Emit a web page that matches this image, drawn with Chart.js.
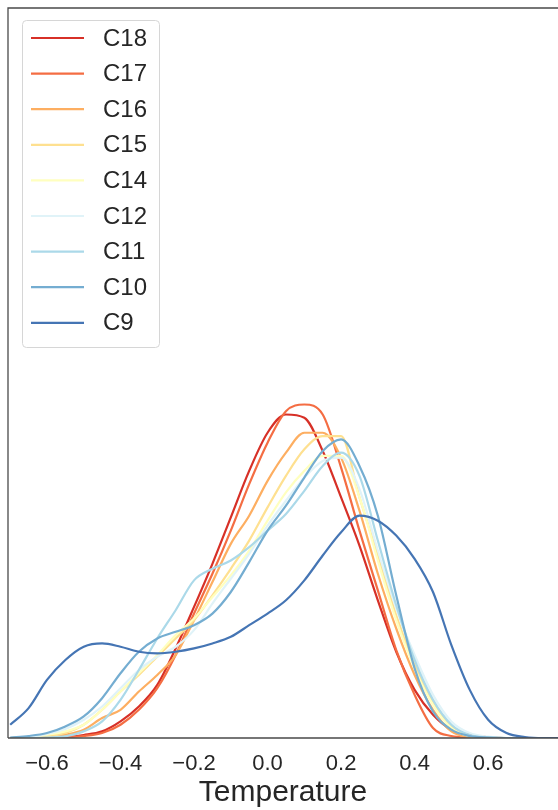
<!DOCTYPE html>
<html>
<head>
<meta charset="utf-8">
<script src="https://cdn.jsdelivr.net/npm/chart.js@4.4.1/dist/chart.umd.min.js"></script>
<style>
  html, body { margin: 0; padding: 0; background: #fff; overflow: hidden; }
  #wrap { width: 558px; height: 810px; position: relative; }
</style>
</head>
<body>
<div id="wrap"><canvas id="kde"></canvas></div>
<script>
// temperature grid the densities were read at
const temps = [-0.70, -0.65, -0.60, -0.55, -0.50, -0.45, -0.40, -0.35, -0.30, -0.25,
               -0.20, -0.15, -0.10, -0.05, 0.00, 0.05, 0.10, 0.15, 0.20, 0.25,
               0.30, 0.35, 0.40, 0.45, 0.50, 0.55, 0.60, 0.65, 0.70, 0.75, 0.80];

const names = ["C18", "C17", "C16", "C15", "C14", "C12", "C11", "C10", "C9"];
const colors = ["#d73027", "#f46d43", "#fdae61", "#fee090", "#ffffbf", "#e0f3f8", "#abd9e9", "#74add1", "#4575b4"];

const c18 = [0, 0, 0.003, 0.006, 0.018, 0.04, 0.10, 0.19, 0.32, 0.54, 0.79, 1.05, 1.33, 1.61, 1.84, 1.95, 1.93, 1.73, 1.45, 1.16, 0.83, 0.52, 0.29, 0.14, 0.05, 0.018, 0.006, 0, 0, 0, 0];
const c17 = [0, 0, 0.002, 0.005, 0.012, 0.03, 0.08, 0.17, 0.30, 0.50, 0.75, 0.99, 1.25, 1.53, 1.78, 1.97, 2.01, 1.95, 1.63, 1.25, 0.89, 0.53, 0.26, 0.06, 0.012, 0.003, 0, 0, 0, 0, 0];
const c16 = [0, 0.001, 0.006, 0.02, 0.05, 0.12, 0.17, 0.28, 0.38, 0.50, 0.71, 0.94, 1.17, 1.34, 1.55, 1.72, 1.84, 1.84, 1.69, 1.37, 0.99, 0.66, 0.38, 0.17, 0.04, 0.006, 0, 0, 0, 0, 0];
const c15 = [0, 0.002, 0.01, 0.03, 0.08, 0.17, 0.28, 0.38, 0.49, 0.60, 0.71, 0.86, 1.02, 1.19, 1.39, 1.58, 1.74, 1.82, 1.82, 1.45, 1.10, 0.74, 0.44, 0.21, 0.07, 0.012, 0.003, 0, 0, 0, 0];
const c14 = [0, 0.003, 0.02, 0.04, 0.08, 0.17, 0.28, 0.39, 0.50, 0.62, 0.72, 0.85, 0.98, 1.13, 1.31, 1.48, 1.61, 1.70, 1.70, 1.45, 1.07, 0.71, 0.42, 0.20, 0.06, 0.012, 0.003, 0, 0, 0, 0];
const c12 = [0, 0.005, 0.025, 0.055, 0.11, 0.19, 0.30, 0.41, 0.49, 0.55, 0.65, 0.81, 0.96, 1.11, 1.28, 1.43, 1.57, 1.67, 1.69, 1.50, 1.13, 0.78, 0.50, 0.26, 0.10, 0.03, 0.008, 0, 0, 0, 0];
const c11 = [0, 0, 0.003, 0.01, 0.04, 0.10, 0.23, 0.41, 0.60, 0.77, 0.95, 1.02, 1.07, 1.15, 1.25, 1.35, 1.49, 1.64, 1.72, 1.58, 1.19, 0.80, 0.47, 0.23, 0.08, 0.018, 0.004, 0, 0, 0, 0];
const c10 = [0.003, 0.012, 0.03, 0.07, 0.13, 0.24, 0.39, 0.52, 0.60, 0.64, 0.68, 0.75, 0.88, 1.06, 1.25, 1.40, 1.57, 1.73, 1.80, 1.64, 1.34, 0.86, 0.42, 0.16, 0.05, 0.012, 0.003, 0, 0, 0, 0];
const c9  = [0.08, 0.18, 0.35, 0.47, 0.55, 0.57, 0.55, 0.52, 0.51, 0.52, 0.54, 0.57, 0.61, 0.68, 0.75, 0.83, 0.95, 1.10, 1.24, 1.34, 1.31, 1.22, 1.08, 0.88, 0.56, 0.29, 0.11, 0.03, 0.006, 0, 0];

const series = [c18, c17, c16, c15, c14, c12, c11, c10, c9];
const xTicks = [-0.6, -0.4, -0.2, 0.0, 0.2, 0.4, 0.6];

const FONT = "'Liberation Sans', Arial, sans-serif";
const INK = "#262626";

// spines + legend box, drawn on top like matplotlib does
const frame = {
    id: 'frame',
    afterDatasetsDraw(chart) {
        const {ctx, chartArea: a} = chart;
        ctx.save();
        ctx.strokeStyle = "#4a4a4a";
        ctx.lineWidth = 1.3;
        ctx.beginPath();
        ctx.moveTo(a.left, a.bottom);
        ctx.lineTo(a.left, a.top);
        ctx.lineTo(chart.width + 5, a.top);
        ctx.moveTo(a.left, a.bottom);
        ctx.lineTo(chart.width + 5, a.bottom);
        ctx.stroke();
        ctx.restore();
    },
    afterDraw(chart) {
        const ctx = chart.ctx;
        ctx.save();
        ctx.beginPath();
        ctx.roundRect(22.5, 20.5, 137, 327, 4);
        ctx.fillStyle = "rgba(255,255,255,0.85)";
        ctx.fill();
        ctx.strokeStyle = "#d6d6d6";
        ctx.lineWidth = 1;
        ctx.stroke();
        ctx.font = "24px " + FONT;
        ctx.textBaseline = "middle";
        names.forEach((n, i) => {
            const y = 38 + i * 35.6;
            ctx.strokeStyle = colors[i];
            ctx.lineWidth = 2.2;
            ctx.beginPath();
            ctx.moveTo(31, y);
            ctx.lineTo(84, y);
            ctx.stroke();
            ctx.fillStyle = INK;
            ctx.fillText(n, 103, y + 1);
        });
        ctx.restore();
    }
};

new Chart(document.getElementById('kde'), {
    type: 'line',
    data: {
        datasets: names.map((n, i) => ({
            label: n,
            data: temps.map((t, j) => ({x: t, y: series[i][j]})),
            borderColor: colors[i],
            borderWidth: 2.2,
            pointRadius: 0,
            fill: false,
            cubicInterpolationMode: 'monotone',
            order: names.length - i
        }))
    },
    options: {
        responsive: true,
        maintainAspectRatio: false,
        animation: false,
        layout: { padding: { left: 8, top: 8, right: 0, bottom: 1 } },
        plugins: {
            legend: { display: false },
            tooltip: { enabled: false }
        },
        scales: {
            x: {
                type: 'linear',
                min: -0.706,
                max: 0.79,
                grid: { display: false, drawTicks: false },
                border: { display: false },
                afterBuildTicks: (axis) => { axis.ticks = xTicks.map(v => ({value: v})); },
                afterFit: (axis) => { axis.height = 71; },
                ticks: {
                    padding: 13,
                    color: INK,
                    font: { family: FONT, size: 22 },
                    maxRotation: 0,
                    callback: (v) => v.toFixed(1).replace('-', '\u2212')
                },
                title: {
                    display: true,
                    text: 'Temperature',
                    color: INK,
                    font: { family: FONT, size: 30, lineHeight: 1.1 },
                    padding: { top: 0, bottom: 0 }
                }
            },
            y: {
                display: false,
                min: 0,
                max: 4.4
            }
        }
    },
    plugins: [frame]
});
</script>
</body>
</html>
